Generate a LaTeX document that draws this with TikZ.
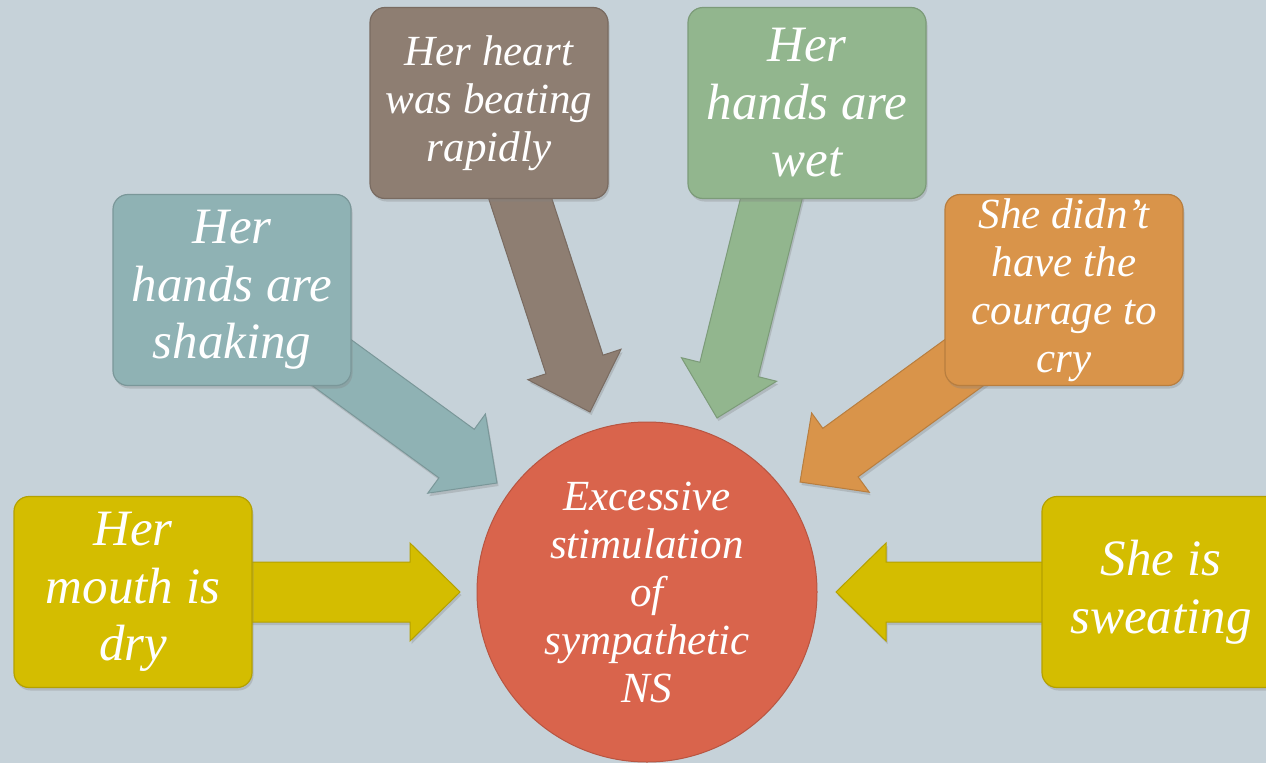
\documentclass[tikz,border=0pt]{standalone}
\usepackage{fontspec}
\setmainfont{Liberation Serif}
\usetikzlibrary{calc,shadows}

\definecolor{bgcol}{RGB}{198,210,217}
\definecolor{yellowbox}{RGB}{212,189,0}
\definecolor{tealbox}{RGB}{143,178,180}
\definecolor{brownbox}{RGB}{142,126,114}
\definecolor{greenbox}{RGB}{146,182,142}
\definecolor{orangebox}{RGB}{217,148,74}
\definecolor{redcirc}{RGB}{217,100,76}

\pgfdeclarelayer{back}
\pgfdeclarelayer{arrows}
\pgfsetlayers{back,arrows,main}

\tikzset{
  box/.style={rectangle, rounded corners=15pt, minimum width=238pt,
    minimum height=191pt, inner sep=0pt, align=center, text=white,
    line width=1.2pt, drop shadow={opacity=0.3, shadow xshift=1.5pt, shadow yshift=-3pt}},
  bigtext/.style={font=\fontsize{51}{57.5}\selectfont\itshape},
  smalltext/.style={font=\fontsize{43}{48}\selectfont\itshape},
}

% fat arrow from a box centre to a tip
\newcommand{\blockarrow}[3]{%
  \coordinate (hb) at ($(#2)!50pt!(#1)$);
  \filldraw[fill=#3, draw=#3!85!black, line width=1pt,
    drop shadow={opacity=0.3, shadow xshift=1.5pt, shadow yshift=-3pt}]
    ($(#1)!30pt!90:(#2)$) -- ($(hb)!30pt!90:(#2)$) -- ($(hb)!49pt!90:(#2)$)
    -- (#2) -- ($(hb)!49pt!-90:(#2)$) -- ($(hb)!30pt!-90:(#2)$)
    -- ($(#1)!30pt!-90:(#2)$) -- cycle;
}

\begin{document}
\begin{tikzpicture}[x=1pt,y=-1pt]
  \useasboundingbox (0,0) rectangle (1266,763);
  \begin{pgfonlayer}{back}
    \fill[bgcol] (0,0) rectangle (1266,763);
  \end{pgfonlayer}

  \node[circle, minimum size=340pt, inner sep=0pt, fill=redcirc, draw=redcirc!85!black,
    line width=1pt, text=white, align=center, smalltext] (ns) at (647,592)
    {Excessive\\stimulation\\of\\sympathetic\\NS};

  \node[box, bigtext, fill=yellowbox, draw=yellowbox!85!black] (mouth) at (133,592) {Her\\mouth is\\dry};
  \node[box, bigtext, fill=tealbox, draw=tealbox!85!black] (shaking) at (232,290) {Her\\hands are\\shaking};
  \node[box, smalltext, fill=brownbox, draw=brownbox!85!black] (heart) at (489,103) {Her heart\\was beating\\rapidly};
  \node[box, bigtext, fill=greenbox, draw=greenbox!85!black] (wet) at (807,103) {Her\\hands are\\wet};
  \node[box, smalltext, fill=orangebox, draw=orangebox!85!black] (cry) at (1064,290) {She didn’t\\have the\\courage to\\cry};
  \node[box, bigtext, fill=yellowbox, draw=yellowbox!85!black] (sweat) at (1161,592) {She is\\sweating};

  \coordinate (tmouth) at (460,592);
  \coordinate (tshaking) at (497,483);
  \coordinate (theart) at (590,412);
  \coordinate (twet) at (717,418);
  \coordinate (tcry) at (800,482);
  \coordinate (tsweat) at (836,592);
  \coordinate (swet) at ([xshift=-12pt]wet.center);

  \begin{pgfonlayer}{arrows}
    \blockarrow{mouth.center}{tmouth}{yellowbox}
    \blockarrow{shaking.center}{tshaking}{tealbox}
    \blockarrow{heart.center}{theart}{brownbox}
    \blockarrow{swet}{twet}{greenbox}
    \blockarrow{cry.center}{tcry}{orangebox}
    \blockarrow{sweat.center}{tsweat}{yellowbox}
  \end{pgfonlayer}
\end{tikzpicture}
\end{document}
